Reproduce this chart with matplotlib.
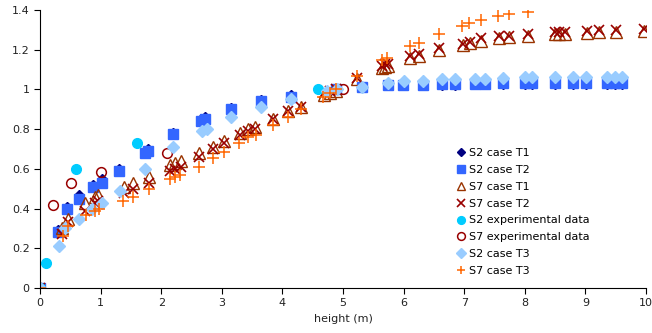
import matplotlib.pyplot as plt
from matplotlib.ticker import FuncFormatter

plt.rcParams['font.family'] = ['DejaVu Sans']

# S2 simulations (T1 hidden under T2 mostly)
s2_x = [0, 0.30, 0.44, 0.64, 0.87, 1.02, 1.31, 1.73, 1.78, 2.2, 2.65, 2.72, 3.15, 3.64,
        4.14, 4.88, 5.31, 5.74, 5.99, 6.32, 6.63, 6.85, 7.18, 7.34, 7.64, 8.0, 8.12,
        8.5, 8.8, 9.01, 9.36, 9.49, 9.6]
s2_t1_y = [0, 0.29, 0.41, 0.47, 0.52, 0.55, 0.60, 0.69, 0.70, 0.78, 0.85, 0.86, 0.905, 0.945,
           0.97, 1.0, 1.01, 1.02, 1.02, 1.02, 1.02, 1.02, 1.025, 1.025, 1.025, 1.025, 1.025,
           1.025, 1.025, 1.025, 1.025, 1.025, 1.025]
s2_t2_y = [0, 0.28, 0.40, 0.45, 0.51, 0.53, 0.59, 0.68, 0.69, 0.775, 0.84, 0.85, 0.90, 0.94,
           0.96, 1.0, 1.01, 1.02, 1.02, 1.02, 1.025, 1.025, 1.025, 1.025, 1.03, 1.03, 1.03,
           1.03, 1.03, 1.03, 1.03, 1.03, 1.03]
s2_t3_x = [0, 0.31, 0.41, 0.65, 0.86, 1.02, 1.32, 1.74, 2.2, 2.67, 2.76, 3.15, 3.64, 4.14,
           4.73, 4.9, 5.31, 5.74, 6.0, 6.32, 6.63, 6.85, 7.18, 7.34, 7.64, 8.0, 8.12, 8.5,
           8.8, 9.01, 9.36, 9.49, 9.6]
s2_t3_y = [0, 0.21, 0.30, 0.35, 0.40, 0.43, 0.49, 0.60, 0.71, 0.79, 0.80, 0.86, 0.91, 0.95,
           0.99, 1.0, 1.01, 1.03, 1.04, 1.04, 1.05, 1.05, 1.055, 1.055, 1.06, 1.065, 1.065,
           1.065, 1.065, 1.065, 1.065, 1.065, 1.065]

# S7 simulations
s7_x = [0, 0.37, 0.46, 0.74, 0.91, 0.95, 1.38, 1.54, 1.8, 2.15, 2.23, 2.33, 2.62, 2.85,
        3.04, 3.3, 3.43, 3.55, 3.84, 4.09, 4.3, 4.69, 4.79, 4.88, 5.23, 5.64, 5.69, 5.74,
        6.1, 6.25, 6.58, 6.98, 7.1, 7.27, 7.57, 7.74, 8.06, 8.5, 8.57, 8.66, 9.03, 9.22,
        9.5, 9.97]
s7_t1_y = [0, 0.30, 0.35, 0.43, 0.46, 0.47, 0.51, 0.53, 0.56, 0.62, 0.63, 0.64, 0.68, 0.71,
           0.74, 0.78, 0.80, 0.81, 0.85, 0.89, 0.91, 0.97, 0.98, 0.99, 1.05, 1.11, 1.115, 1.12,
           1.16, 1.17, 1.2, 1.225, 1.235, 1.245, 1.26, 1.265, 1.27, 1.28, 1.28, 1.28, 1.285,
           1.29, 1.29, 1.295]
s7_t2_y = [0, 0.27, 0.33, 0.39, 0.43, 0.44, 0.48, 0.50, 0.53, 0.59, 0.60, 0.61, 0.66, 0.70,
           0.73, 0.77, 0.79, 0.80, 0.85, 0.89, 0.91, 0.98, 0.99, 1.0, 1.06, 1.12, 1.13, 1.13,
           1.17, 1.18, 1.21, 1.23, 1.24, 1.26, 1.27, 1.27, 1.28, 1.29, 1.29, 1.29, 1.295,
           1.30, 1.30, 1.305]
s7_t3_x = [0, 0.38, 0.46, 0.76, 0.91, 0.97, 1.37, 1.54, 1.8, 2.15, 2.22, 2.31, 2.62, 2.85,
           3.04, 3.29, 3.43, 3.56, 3.84, 4.09, 4.3, 4.67, 4.79, 4.88, 5.23, 5.64, 5.72,
           6.1, 6.25, 6.58, 6.97, 7.08, 7.28, 7.56, 7.74, 8.05]
s7_t3_y = [0, 0.26, 0.31, 0.37, 0.39, 0.40, 0.44, 0.46, 0.50, 0.55, 0.56, 0.57, 0.61, 0.655,
           0.685, 0.73, 0.76, 0.77, 0.82, 0.86, 0.90, 0.96, 0.98, 1.0, 1.07, 1.15, 1.16,
           1.22, 1.235, 1.28, 1.32, 1.335, 1.35, 1.37, 1.38, 1.39]

# experimental data
s2_exp_x = [0, 0.1, 0.6, 1.6, 4.59]
s2_exp_y = [0, 0.125, 0.60, 0.73, 1.0]
s7_exp_x = [0.21, 0.51, 1.0, 2.1, 5.0]
s7_exp_y = [0.42, 0.53, 0.585, 0.68, 1.0]

fig = plt.figure(figsize=(6.52, 3.33), dpi=100)
ax = fig.add_axes([40 / 652, 45 / 333, 606 / 652, 278 / 333])

ax.plot(s2_x, s2_t1_y, 'D', color='#000080', ms=5, ls='none', label='S2 case T1')
ax.plot(s2_x, s2_t2_y, 's', color='#3366FF', ms=7, ls='none', label='S2 case T2')
ax.plot(s7_x, s7_t1_y, '^', mfc='none', mec='#993300', mew=1, ms=8, ls='none', label='S7 case T1')
ax.plot(s7_x, s7_t2_y, 'x', color='#990000', mew=1.2, ms=7, ls='none', label='S7 case T2')
ax.plot(s2_exp_x, s2_exp_y, 'o', color='#00CCFF', ms=7, ls='none', label='S2 experimental data')
ax.plot(s7_exp_x, s7_exp_y, 'o', mfc='none', mec='#990000', mew=1.1, ms=7, ls='none', label='S7 experimental data')
ax.plot(s2_t3_x, s2_t3_y, 'D', color='#99CCFF', ms=6, ls='none', label='S2 case T3')
ax.plot(s7_t3_x, s7_t3_y, '+', color='#FF6600', mew=1.1, ms=8, ls='none', label='S7 case T3')

ax.set_xlim(0, 10)
ax.set_ylim(0, 1.4)
ax.set_xticks(range(0, 11))
ax.set_yticks([0, 0.2, 0.4, 0.6, 0.8, 1.0, 1.2, 1.4])
ax.yaxis.set_major_formatter(FuncFormatter(lambda v, p: f"{v:g}"))
ax.tick_params(labelsize=8, length=4, color='black', labelcolor='#222222')
for s in ['top', 'right']:
    ax.spines[s].set_visible(False)
ax.set_xlabel('height (m)', fontsize=8, color='#222222')

ax.legend(loc='upper left', bbox_to_anchor=(0.68, 0.52), frameon=False, fontsize=8,
          handlelength=0.8, handletextpad=0.3, labelspacing=0.62, borderaxespad=0,
          markerscale=0.8)

plt.savefig('out.png', dpi=100)
